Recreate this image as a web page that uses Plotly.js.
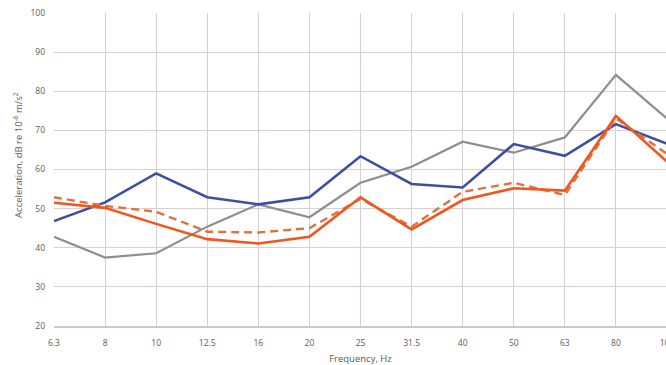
<!DOCTYPE html>
<html>
<head>
<meta charset="utf-8">
<script src="https://cdn.plot.ly/plotly-3.0.1.min.js"></script>
<style>
  html, body { margin: 0; padding: 0; background: #ffffff; overflow: hidden; width: 666px; height: 365px; }
  #chart { width: 680px; height: 365px; }
</style>
</head>
<body>
<div id="chart"></div>
<script>
// One-third octave band centre frequencies (Hz)
const freqs = ['6.3', '8', '10', '12.5', '16', '20', '25', '31.5', '40', '50', '63', '80', '100'];

// Acceleration levels, dB re 10^-6 m/s^2
const seriesBlue   = [46.8, 51.6, 59.0, 52.9, 51.1, 52.9, 63.4, 56.3, 55.4, 66.5, 63.5, 71.6, 66.6];
const seriesGrey   = [42.8, 37.5, 38.6, 45.4, 51.1, 47.8, 56.6, 60.7, 67.1, 64.3, 68.2, 84.2, 73.0];
const seriesOrange = [51.5, 50.2, 46.1, 42.2, 41.1, 42.8, 52.9, 44.7, 52.2, 55.2, 54.6, 73.7, 62.0];
const seriesDashed = [52.9, 50.7, 49.2, 44.1, 43.9, 45.0, 52.5, 45.4, 54.3, 56.6, 53.5, 73.1, 64.0];

const yTicks = [20, 30, 40, 50, 60, 70, 80, 90, 100];

const traces = [
  { x: freqs, y: seriesGrey,   mode: 'lines', line: { color: '#8e8e8e', width: 2.2 } },
  { x: freqs, y: seriesBlue,   mode: 'lines', line: { color: '#3d4fa0', width: 2.6 } },
  { x: freqs, y: seriesDashed, mode: 'lines', line: { color: '#e2703a', width: 2.4, dash: '8px,5px' } },
  { x: freqs, y: seriesOrange, mode: 'lines', line: { color: '#f0561e', width: 2.6 } }
];

const fontFamily = 'Open Sans, Arial, sans-serif';
const axisFont = { family: fontFamily, size: 8.5, color: '#5a5a5a' };

const layout = {
  width: 680,
  height: 365,
  margin: { l: 54, r: 13, t: 13, b: 39 },
  paper_bgcolor: '#ffffff',
  plot_bgcolor: '#ffffff',
  showlegend: false,
  xaxis: {
    type: 'category',
    range: [0, 12],
    showgrid: true,
    gridcolor: '#dacfcf',
    gridwidth: 1,
    showline: true,
    linecolor: '#d2c6c6',
    linewidth: 1.5,
    zeroline: false,
    ticks: '',
    ticklabelstandoff: 8,
    tickfont: axisFont,
    title: { text: 'Frequency, Hz', font: { family: fontFamily, size: 9.5, color: '#5a5a5a' }, standoff: 14 }
  },
  yaxis: {
    range: [20, 100],
    tickvals: yTicks,
    ticktext: yTicks.map(String),
    showgrid: true,
    gridcolor: '#dacfcf',
    gridwidth: 1,
    showline: false,
    zeroline: false,
    ticks: '',
    ticklabelstandoff: 8,
    tickfont: axisFont
  },
  annotations: [{
    text: 'Acceleration, dB re 10<sup>-6</sup> m/s<sup>2</sup>',
    xref: 'paper', yref: 'paper',
    x: -0.0585, y: 0.547,
    xanchor: 'center', yanchor: 'middle',
    textangle: -90,
    showarrow: false,
    font: { family: fontFamily, size: 9.5, color: '#5a5a5a' }
  }]
};

Plotly.newPlot('chart', traces, layout, { displayModeBar: false, staticPlot: true });
</script>
</body>
</html>
